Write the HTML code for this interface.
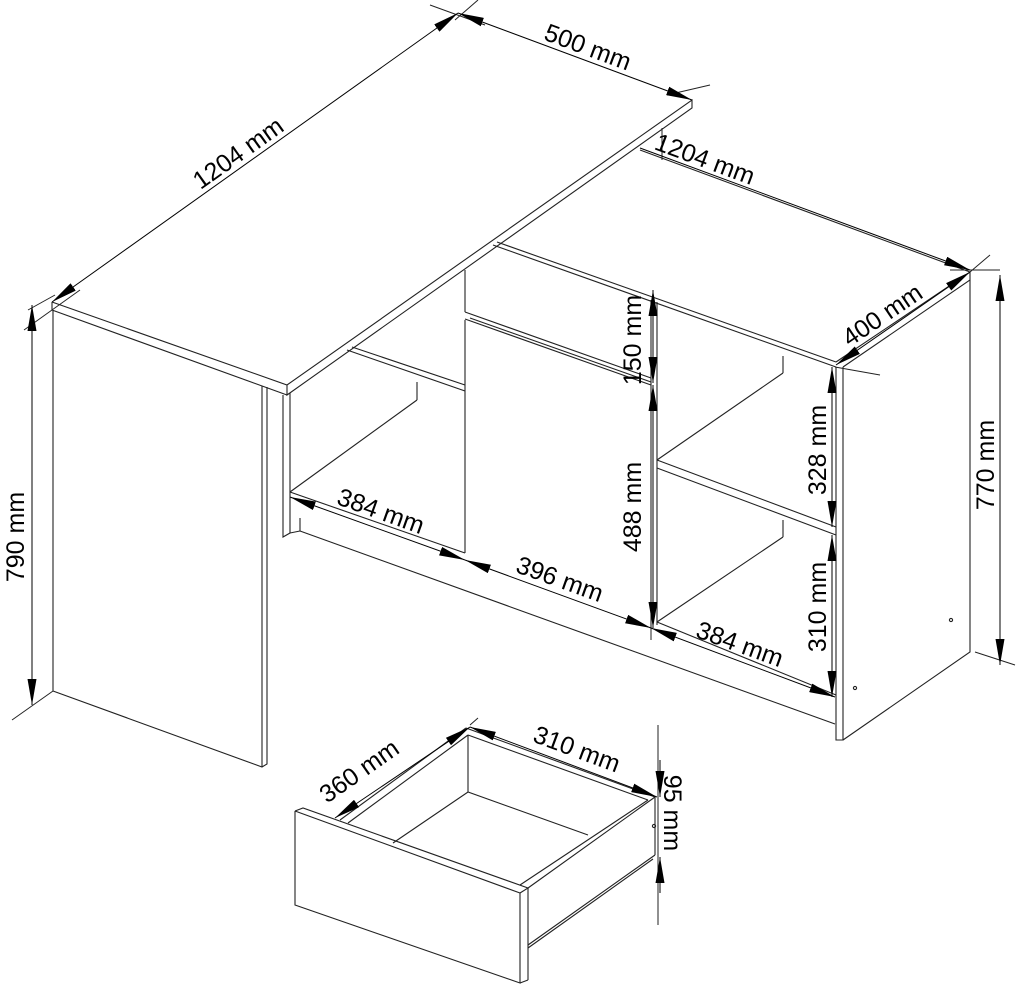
<!DOCTYPE html>
<html><head><meta charset="utf-8"><style>
html,body{margin:0;padding:0;background:#fff;}
svg{display:block}
text{font-family:"Liberation Sans",sans-serif;font-size:25px;fill:#000}
</style></head><body>
<svg width="1020" height="989" viewBox="0 0 1020 989" xmlns="http://www.w3.org/2000/svg">
<defs>
<marker id="a" viewBox="0 0 26 9" refX="26" refY="4.5" markerWidth="26" markerHeight="9" markerUnits="userSpaceOnUse" orient="auto-start-reverse"><path d="M0,0 L26,4.5 L0,9 z" fill="#000"/></marker>
</defs>
<g fill="none" stroke="#222" stroke-width="1.1">
<polyline points="52,302 287,385 692,100 692,108 287,395 287,385"/>
<line x1="52" y1="310" x2="287" y2="395"/>
<line x1="52" y1="302" x2="52" y2="310"/>
<polyline points="53,310 53,691 262,767 267,764 267,387"/>
<line x1="262" y1="386" x2="262" y2="767"/>
<polyline points="283,395 283,537 290,533 290,393"/>
<line x1="290" y1="492" x2="465" y2="553"/>
<line x1="290" y1="492" x2="417" y2="400"/>
<line x1="417" y1="400" x2="417" y2="382"/>
<line x1="347" y1="350" x2="465" y2="391"/>
<line x1="352" y1="347" x2="465" y2="385"/>
<line x1="300" y1="531" x2="835" y2="724"/>
<line x1="290" y1="533" x2="300" y2="531"/>
<line x1="300" y1="518" x2="300" y2="531"/>
<line x1="493" y1="245" x2="836" y2="367"/>
<line x1="497" y1="242" x2="836" y2="362"/>
<line x1="640" y1="150" x2="970" y2="272"/>
<polyline points="836,362 970,272 970,280 843,367"/>
<line x1="465" y1="270" x2="465" y2="312"/>
<line x1="465" y1="312" x2="651" y2="378"/>
<line x1="465" y1="319" x2="651" y2="385"/>
<line x1="470" y1="318" x2="651" y2="382"/>
<polyline points="465,320 465,553"/>
<line x1="651" y1="300" x2="651" y2="628"/>
<line x1="657" y1="302" x2="657" y2="625"/>
<line x1="657" y1="460" x2="836" y2="527"/>
<line x1="657" y1="468" x2="836" y2="535"/>
<line x1="657" y1="460" x2="783" y2="373"/>
<line x1="783" y1="373" x2="783" y2="356"/>
<line x1="657" y1="622" x2="836" y2="695"/>
<line x1="657" y1="622" x2="783" y2="537"/>
<line x1="783" y1="537" x2="783" y2="520"/>
<polyline points="836,367 836,740 843,740 843,367"/>
<polyline points="843,740 970,652 970,280"/>
<circle cx="951" cy="620" r="1.6"/>
<circle cx="855" cy="688" r="1.6"/>
<polyline points="295,811 520,893 520,983 295,905 295,811"/>
<polyline points="295,811 303,808 528,888 520,893"/>
<line x1="528" y1="888" x2="528" y2="980"/>
<line x1="520" y1="983" x2="528" y2="980"/>
<line x1="340" y1="820" x2="466" y2="728"/>
<line x1="348" y1="823" x2="468" y2="735"/>
<line x1="466" y1="728" x2="655" y2="797"/>
<line x1="468" y1="735" x2="648" y2="800"/>
<line x1="655" y1="797" x2="528" y2="888"/>
<line x1="648" y1="800" x2="520" y2="885"/>
<line x1="468" y1="735" x2="468" y2="792"/>
<polyline points="393,843 468,792 588,835"/>
<line x1="655" y1="855" x2="528" y2="945"/>
<line x1="653" y1="859" x2="528" y2="948"/>
<line x1="655" y1="797" x2="655" y2="855"/>
<circle cx="654" cy="826" r="1.6"/>
</g>
<g fill="none" stroke="#222" stroke-width="1">
<line x1="24" y1="330" x2="80" y2="290"/>
<line x1="430" y1="5" x2="485" y2="25"/>
<line x1="455" y1="20" x2="478" y2="0"/>
<line x1="667" y1="95" x2="710" y2="85"/>
<line x1="662" y1="128" x2="662" y2="160"/>
<line x1="835" y1="367" x2="880" y2="375"/>
<line x1="950" y1="270" x2="1000" y2="270"/>
<line x1="970" y1="272" x2="990" y2="255"/>
<line x1="975" y1="652" x2="1015" y2="665"/>
<line x1="12" y1="720" x2="53" y2="691"/>
<line x1="28" y1="310" x2="55" y2="295"/>
<line x1="651" y1="610" x2="651" y2="640"/>
<line x1="658" y1="725" x2="658" y2="925"/>
<line x1="470" y1="725" x2="478" y2="718"/>
</g>
<g stroke="#000" stroke-width="1" fill="none">
<line x1="52" y1="302" x2="458" y2="13" marker-start="url(#a)" marker-end="url(#a)"/>
<line x1="458" y1="13" x2="692" y2="100" marker-start="url(#a)" marker-end="url(#a)"/>
<line x1="640" y1="148" x2="970" y2="270" marker-end="url(#a)"/>
<line x1="836" y1="365" x2="970" y2="272" marker-start="url(#a)" marker-end="url(#a)"/>
<line x1="1000" y1="275" x2="1000" y2="665" marker-start="url(#a)" marker-end="url(#a)"/>
<line x1="32" y1="305" x2="32" y2="705" marker-start="url(#a)" marker-end="url(#a)"/>
<line x1="653" y1="290" x2="653" y2="383" marker-start="url(#a)" marker-end="url(#a)"/>
<line x1="653" y1="385" x2="653" y2="628" marker-start="url(#a)" marker-end="url(#a)"/>
<line x1="832" y1="367" x2="832" y2="527" marker-start="url(#a)" marker-end="url(#a)"/>
<line x1="832" y1="535" x2="832" y2="697" marker-start="url(#a)" marker-end="url(#a)"/>
<line x1="290" y1="497" x2="465" y2="560" marker-start="url(#a)" marker-end="url(#a)"/>
<line x1="465" y1="560" x2="651" y2="628" marker-start="url(#a)" marker-end="url(#a)"/>
<line x1="651" y1="628" x2="835" y2="697" marker-start="url(#a)" marker-end="url(#a)"/>
<line x1="335" y1="818" x2="470" y2="727" marker-start="url(#a)" marker-end="url(#a)"/>
<line x1="470" y1="727" x2="657" y2="797" marker-start="url(#a)" marker-end="url(#a)"/>
<line x1="660" y1="760" x2="660" y2="797" marker-end="url(#a)"/>
<line x1="660" y1="893" x2="660" y2="857" marker-end="url(#a)"/>
</g>
<text transform="translate(243,160) rotate(-35.4)" text-anchor="middle">1204 mm</text>
<text transform="translate(585,55) rotate(20.4)" text-anchor="middle">500 mm</text>
<text transform="translate(702,167) rotate(20.4)" text-anchor="middle">1204 mm</text>
<text transform="translate(887,322) rotate(-34)" text-anchor="middle">400 mm</text>
<text transform="translate(994,465) rotate(-90)" text-anchor="middle">770 mm</text>
<text transform="translate(24,537) rotate(-90)" text-anchor="middle">790 mm</text>
<text transform="translate(641,340) rotate(-90)" text-anchor="middle">150 mm</text>
<text transform="translate(641,507) rotate(-90)" text-anchor="middle">488 mm</text>
<text transform="translate(826,450) rotate(-90)" text-anchor="middle">328 mm</text>
<text transform="translate(826,607) rotate(-90)" text-anchor="middle">310 mm</text>
<text transform="translate(378,519) rotate(19.8)" text-anchor="middle">384 mm</text>
<text transform="translate(557,587) rotate(19.8)" text-anchor="middle">396 mm</text>
<text transform="translate(737,652) rotate(19.8)" text-anchor="middle">384 mm</text>
<text transform="translate(364,778) rotate(-35)" text-anchor="middle">360 mm</text>
<text transform="translate(574,757) rotate(20.4)" text-anchor="middle">310 mm</text>
<text transform="translate(664,813) rotate(90)" text-anchor="middle">95 mm</text>
</svg>
</body></html>
